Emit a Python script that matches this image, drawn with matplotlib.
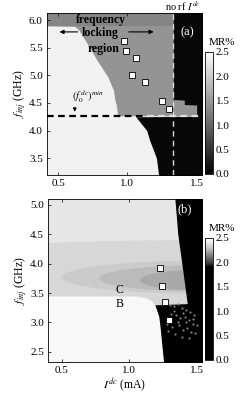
import numpy as np
import matplotlib
matplotlib.use("Agg")
import matplotlib.pyplot as plt
from matplotlib.colors import LinearSegmentedColormap, Normalize
from matplotlib.cm import ScalarMappable
from matplotlib.patches import Ellipse

plt.rcParams['font.family'] = 'Liberation Serif'
plt.rcParams['mathtext.fontset'] = 'stix'

# ---- panel (a) data ----
f_lock = [4.27, 4.46, 4.47, 4.55, 4.56, 4.73, 4.97, 5.28, 5.58, 5.82, 5.89, 5.9, 6.15]
lock_left = [0.93, 0.92, 0.92, 0.91, 0.91, 0.90, 0.86, 0.78, 0.71, 0.65, 0.62, 0.40, 0.40]
lock_right = [1.50, 1.50, 1.41, 1.41, 1.33, 1.33, 1.33, 1.33, 1.33, 1.33, 1.33, 1.33, 1.33]
f_black_a = [3.1, 3.5, 3.83, 4.0, 4.19, 4.25, 4.26, 4.46, 4.47, 4.55, 4.56, 6.2]
black_left_a = [1.23, 1.21, 1.16, 1.14, 1.08, 1.06, 1.50, 1.50, 1.41, 1.41, 1.33, 1.33]
mr_white_a = 2.36
mr_lock = 1.45
mr_top = 1.3
sq_I_a = [0.976, 0.993, 1.06, 1.036, 1.129, 1.25, 1.298]
sq_f_a = [5.62, 5.45, 5.32, 5.01, 4.88, 4.54, 4.39]
f_min = 4.26
I_norf = 1.33

# ---- panel (b) data ----
mr_bg_b = 2.40
# ellipses: centre I, centre f, half width, half height, MR
ell_I = [1.50, 1.50, 1.50, 1.50]
ell_f = [3.70, 3.77, 3.75, 3.72]
ell_a = [3.0, 1.0, 0.72, 0.42]
ell_b = [0.70, 0.28, 0.22, 0.17]
ell_mr = [2.35, 2.31, 2.27, 2.23]
f_B = [2.2, 2.44, 2.9, 3.1, 3.24, 3.3, 3.38, 3.42, 3.45, 3.45]
B_right = [1.26, 1.25, 1.23, 1.22, 1.20, 1.19, 1.16, 1.12, 1.05, 0.35]
mr_B = 2.47
f_black_b = [2.2, 2.44, 2.9, 3.1, 3.24, 3.3, 3.32, 4.0, 4.5, 5.2]
black_left_b = [1.26, 1.25, 1.23, 1.22, 1.20, 1.19, 1.43, 1.39, 1.36, 1.335]
dots_I = [1.30, 1.33, 1.36, 1.39, 1.42, 1.45, 1.48, 1.31, 1.35, 1.38, 1.41, 1.44, 1.47, 1.50, 1.28,
          1.32, 1.37, 1.40, 1.43, 1.46, 1.49, 1.34, 1.39, 1.44, 1.29, 1.36, 1.42, 1.47, 1.33, 1.40]
dots_f = [3.30, 3.28, 3.31, 3.25, 3.22, 3.18, 3.12, 3.15, 3.12, 3.08, 3.10, 3.04, 2.98, 2.95, 2.98,
          2.92, 2.95, 2.88, 2.90, 2.84, 2.82, 2.80, 2.76, 2.74, 2.85, 3.00, 3.00, 3.06, 3.20, 3.16]
sq_I_b = [1.225, 1.244, 1.264, 1.296]
sq_f_b = [3.92, 3.62, 3.35, 3.04]

cmap_a = plt.cm.gray
cmap_b = LinearSegmentedColormap.from_list(
    'mrb', [(0, 'k'), (0.76, 'k'), (0.8, '0.25'), (0.88, '0.6'), (0.92, '0.78'), (0.96, '0.9'), (1.0, 'w')])
norm = Normalize(0, 2.5)

fig = plt.figure(figsize=(2.45, 3.99), dpi=100)
ax_a = fig.add_axes([0.192, 0.561, 0.633, 0.406])
ax_b = fig.add_axes([0.196, 0.093, 0.629, 0.4085])
cax_a = fig.add_axes([0.837, 0.564, 0.033, 0.306])
cax_b = fig.add_axes([0.837, 0.098, 0.033, 0.306])

# panel (a)
ax_a.set_facecolor(cmap_a(norm(mr_white_a)))
ax_a.fill_betweenx(f_lock, lock_left, lock_right, color=cmap_a(norm(mr_lock)), lw=0)
ax_a.fill_betweenx([5.9, 6.15], 0.40, 1.33, color=cmap_a(norm(mr_top)), lw=0)
ax_a.fill_betweenx(f_black_a, black_left_a, 1.6, color='0.03', lw=0)
ax_a.axvline(I_norf, color='0.85', lw=1, ls=(0, (4, 3)))
ax_a.plot([0.42, 1.14], [f_min, f_min], color='k', lw=1.6, ls=(0, (3, 2)))
ax_a.plot([1.14, 1.54], [f_min, f_min], color='0.88', lw=1.6, ls=(0, (3, 2)))
ax_a.plot(sq_I_a, sq_f_a, 's', ms=4, mfc='w', mec='k', mew=0.6)
ax_a.text(0.81, 6.01, 'frequency', fontsize=8.5, fontweight='bold', ha='center', va='center')
ax_a.text(0.80, 5.77, 'locking', fontsize=8.5, fontweight='bold', ha='center', va='center')
ax_a.text(0.83, 5.48, 'region', fontsize=8.5, fontweight='bold', ha='center', va='center')
ax_a.annotate('', xy=(0.49, 5.79), xytext=(0.66, 5.79),
              arrowprops=dict(arrowstyle='-|>', color='k', lw=0.8, mutation_scale=6))
ax_a.annotate('', xy=(1.21, 5.79), xytext=(0.99, 5.79),
              arrowprops=dict(arrowstyle='-|>', color='k', lw=0.8, mutation_scale=6))
ax_a.text(0.60, 4.61, r'$(f_0^{\,dc})^{min}$', fontsize=7.5, ha='left', va='center')
ax_a.annotate('', xy=(0.62, 4.29), xytext=(0.62, 4.47),
              arrowprops=dict(arrowstyle='-|>', color='k', lw=0.7, mutation_scale=5))
ax_a.text(1.435, 5.78, '(a)', color='w', fontsize=9, ha='center', va='center')
ax_a.set_xlim(0.42, 1.54)
ax_a.set_ylim(3.19, 6.13)
ax_a.set_yticks([3.5, 4.0, 4.5, 5.0, 5.5, 6.0])
ax_a.set_ylabel(r'$f_{inj}$ (GHz)', fontsize=8.5, labelpad=1)
fig.text(0.745, 0.985, r'no rf $I^{dc}$', fontsize=7.5, ha='center', va='center')

# panel (b)
ax_b.set_facecolor(cmap_b(norm(mr_bg_b)))
for ci, cf, a, b, v in zip(ell_I, ell_f, ell_a, ell_b, ell_mr):
    ax_b.add_patch(Ellipse((ci, cf), 2 * a, 2 * b, color=cmap_b(norm(v)), lw=0))
ax_b.fill_betweenx(f_B, 0.35, B_right, color=cmap_b(norm(mr_B)), lw=0)
ax_b.fill_betweenx(f_black_b, black_left_b, 1.6, color='k', lw=0)
ax_b.scatter(dots_I, dots_f, s=2.5, c='0.5', lw=0)
ax_b.plot(sq_I_b, sq_f_b, 's', ms=4, mfc='w', mec='k', mew=0.6)
ax_b.text(0.93, 3.56, 'C', fontsize=8.5, ha='center', va='center')
ax_b.text(0.93, 3.31, 'B', fontsize=8.5, ha='center', va='center')
ax_b.text(1.41, 4.93, '(b)', color='w', fontsize=9, ha='center', va='center')
ax_b.set_xlim(0.40, 1.54)
ax_b.set_ylim(2.33, 5.1)
ax_b.set_yticks([2.5, 3.0, 3.5, 4.0, 4.5, 5.0])
ax_b.set_ylabel(r'$f_{inj}$ (GHz)', fontsize=8.5, labelpad=1)
ax_b.set_xlabel(r'$I^{dc}$ (mA)', fontsize=8.5, labelpad=1)

for ax in (ax_a, ax_b):
    ax.set_xticks([0.5, 1.0, 1.5])
    ax.tick_params(direction='in', length=2, width=0.5, labelsize=8, top=True, right=True, pad=3)
    for s in ax.spines.values():
        s.set_linewidth(0.6)

for cax, cm in ((cax_a, cmap_a), (cax_b, cmap_b)):
    cb = fig.colorbar(ScalarMappable(norm=norm, cmap=cm), cax=cax)
    cb.set_ticks([0.0, 0.5, 1.0, 1.5, 2.0, 2.5])
    cb.ax.tick_params(length=0, labelsize=8, pad=2)
    cb.outline.set_linewidth(0.6)
    cax.text(0.5, 1.04, 'MR%', transform=cax.transAxes, fontsize=8, ha='left', va='bottom')

fig.savefig('out.png', dpi=100)
